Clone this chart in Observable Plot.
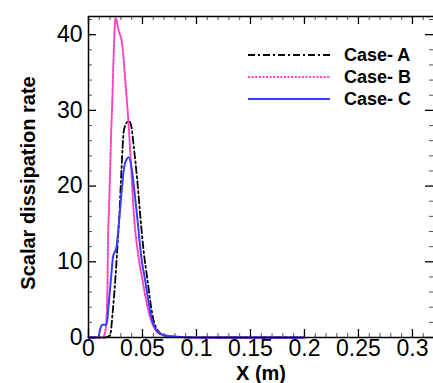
<!DOCTYPE html>
<html><head><meta charset="utf-8">
<script src="https://cdn.jsdelivr.net/npm/d3@7"></script>
<script src="https://cdn.jsdelivr.net/npm/@observablehq/plot@0.6"></script>
<style>
html,body{margin:0;padding:0;background:#fff;overflow:hidden}
#wrap{position:relative;width:433px;height:383px}
.lg{position:absolute;display:flex;align-items:center;font-family:"Liberation Sans",Arial,sans-serif;font-weight:bold;font-size:18px;color:#000;white-space:nowrap}
.lg svg{display:block;margin-right:14px}
</style></head><body><div id="wrap"></div>
<script>
// Series
const seriesNames = ["Case- A", "Case- B", "Case- C"];
const seriesColors = ["#000000", "#ff3fbf", "#3b3bff"];
const seriesDash = ["7,3,2,3", "2,1.6", "none"];
const seriesWidth = [1.8, 2, 2];

// Case A (black dash-dot)
const xA = [0, 0.015, 0.02, 0.0225, 0.025, 0.027, 0.0285, 0.0305, 0.0327, 0.035, 0.0373, 0.0395, 0.042, 0.045, 0.048, 0.051, 0.0546, 0.0575, 0.060, 0.063, 0.066, 0.07, 0.08, 0.1, 0.2];
const yA = [0, 0, 0.3, 3.5, 8, 12.5, 16, 22, 27.3, 28.3, 28.6, 28, 25.1, 21, 16, 11.5, 7.6, 4.5, 2.4, 1.2, 0.6, 0.3, 0.1, 0, 0];

// Case B (pink dotted)
const xB = [0, 0.013, 0.015, 0.0165, 0.0175, 0.018, 0.019, 0.020, 0.021, 0.022, 0.023, 0.024, 0.025, 0.028, 0.0312, 0.0343, 0.0373, 0.040, 0.042, 0.046, 0.050, 0.054, 0.0577, 0.065, 0.075, 0.1, 0.2];
const yB = [0, 0, 0.5, 2, 6, 12, 17, 22, 27, 31, 36, 40, 42.2, 40.5, 38.7, 33.5, 27.8, 21.2, 16.3, 11, 7.6, 4.5, 2.4, 0.6, 0.2, 0, 0];

// Case C (blue solid)
const xC = [0, 0.009, 0.011, 0.013, 0.0167, 0.0185, 0.0207, 0.0228, 0.026, 0.0284, 0.0305, 0.033, 0.0355, 0.0373, 0.040, 0.042, 0.0454, 0.049, 0.0524, 0.0555, 0.0586, 0.062, 0.065, 0.07, 0.08, 0.1, 0.2];
const yC = [0, 0, 1.2, 1.7, 1.7, 4.1, 7.6, 10.7, 12, 15.5, 19, 22.5, 23.6, 23.8, 22.3, 20, 15.5, 10.5, 7.6, 4.8, 2.4, 1.2, 0.6, 0.3, 0.1, 0, 0];

// Axes
const xDomain = [0, 0.3195];
const yDomain = [0, 42.4];
const xMajor = [0, 0.05, 0.1, 0.15, 0.2, 0.25, 0.3];
const xTickLabels = ["0", "0.05", "0.1", "0.15", "0.2", "0.25", "0.3"];
const yMajor = [0, 10, 20, 30, 40];
const yTickLabels = ["0", "10", "20", "30", "40"];
const xMinor = d3.range(1, 32).map(i => i / 100).filter(v => Math.round(v * 100) % 5 !== 0);
const yMinor = d3.range(0, 43, 2).filter(v => v % 10 !== 0);
const xTitle = "X (m)";
const yTitle = "Scalar dissipation rate";

const W = 433, H = 383, mL = 88, mT = 16, mB = 46, mR = 0;
const pW = W - mL - mR, pH = H - mT - mB;

const series = [[xA, yA], [xB, yB], [xC, yC]].map(([xs, ys], k) =>
  xs.map((x, i) => ({x, y: ys[i], name: seriesNames[k]})));

const font = "Liberation Sans, Arial, sans-serif";
const chart = Plot.plot({
  width: W, height: H,
  marginLeft: mL, marginRight: mR, marginTop: mT, marginBottom: mB,
  x: {domain: xDomain},
  y: {domain: yDomain},
  style: {fontFamily: font, color: "#000", background: "#fff", overflow: "visible"},
  marks: [
    // inward ticks
    Plot.tickX(xMajor, {x: d => d, insetTop: pH - 8, stroke: "#000", strokeWidth: 1.3}),
    Plot.tickX(xMinor, {x: d => d, insetTop: pH - 4, stroke: "#555", strokeWidth: 1}),
    Plot.tickX(xMajor, {x: d => d, insetBottom: pH - 8, stroke: "#000", strokeWidth: 1.3}),
    Plot.tickX(xMinor, {x: d => d, insetBottom: pH - 4, stroke: "#555", strokeWidth: 1}),
    Plot.tickY(yMajor, {y: d => d, insetRight: pW - 8, stroke: "#000", strokeWidth: 1.3}),
    Plot.tickY(yMinor, {y: d => d, insetRight: pW - 4, stroke: "#555", strokeWidth: 1}),
    Plot.tickY(yMajor, {y: d => d, insetLeft: pW - 8, stroke: "#000", strokeWidth: 1.3}),
    Plot.tickY(yMinor, {y: d => d, insetLeft: pW - 4, stroke: "#555", strokeWidth: 1}),
    // data lines
    ...series.map((data, k) => Plot.line(data, {
      x: "x", y: "y", stroke: seriesColors[k], strokeWidth: seriesWidth[k],
      strokeDasharray: seriesDash[k] === "none" ? undefined : seriesDash[k],
      curve: "monotone-x"
    })),
    // frame (left, bottom, top)
    Plot.ruleX([xDomain[0]], {stroke: "#000", strokeWidth: 1.5}),
    Plot.ruleY([yDomain[0]], {stroke: "#000", strokeWidth: 1.5}),
    Plot.ruleY([yDomain[1]], {stroke: "#000", strokeWidth: 1.5}),
    // tick labels
    Plot.axisX(xMajor, {tickSize: 0, tickPadding: 2, fontSize: 23, label: null,
      tickFormat: d => xTickLabels[xMajor.indexOf(d)]}),
    Plot.axisY(yMajor, {tickSize: 0, tickPadding: 6, fontSize: 23, label: null,
      tickFormat: d => yTickLabels[yMajor.indexOf(d)]}),
    // titles
    Plot.text([yTitle], {frameAnchor: "left", dx: -60, dy: 6, rotate: -90, textAnchor: "middle", fontSize: 20, fontWeight: "bold", fill: "#000"}),
    Plot.text([xTitle], {frameAnchor: "bottom", dy: 42, textAnchor: "middle", fontSize: 20, fontWeight: "bold", fill: "#000"})
  ]
});
const wrap = document.getElementById("wrap");
wrap.appendChild(chart);

// Legend overlay
seriesNames.forEach((name, k) => {
  const row = document.createElement("div");
  row.className = "lg";
  row.style.left = "248px";
  row.style.top = (55 + k * 22 - 11) + "px";
  row.style.height = "22px";
  const dash = seriesDash[k] === "none" ? "" : `stroke-dasharray="${seriesDash[k]}"`;
  row.innerHTML = `<svg width="82" height="10"><line x1="0" y1="5" x2="82" y2="5" stroke="${seriesColors[k]}" stroke-width="${seriesWidth[k]}" ${dash}/></svg><span>${name}</span>`;
  wrap.appendChild(row);
});
</script>
</body></html>
